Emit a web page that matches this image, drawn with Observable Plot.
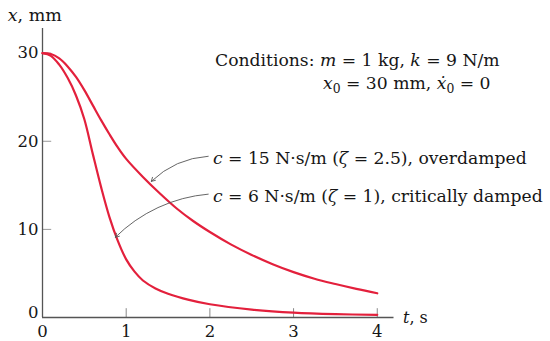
<!DOCTYPE html>
<html><head><meta charset="utf-8">
<script src="https://cdn.jsdelivr.net/npm/d3@7"></script>
<script src="https://cdn.jsdelivr.net/npm/@observablehq/plot@0.6"></script>
<style>
html,body{margin:0;padding:0;background:#fff;}
#chart svg{display:block;}
</style>
</head><body><div id="chart"></div>
<script>
// time samples (s) and displacements (mm)
const timeOver = [0,0.1,0.2,0.3,0.4,0.5,0.6,0.7,0.8,0.9,1.0,1.2,1.4,1.6,1.8,2.0,2.25,2.5,2.75,3.0,3.25,3.5,3.75,4.0];
const overdamped = [30,29.9,29.4,28.5,27.3,25.8,24.1,22.4,20.8,19.3,18.0,15.95,14.1,12.4,10.95,9.7,8.3,7.1,6.05,5.15,4.4,3.8,3.25,2.75];
const timeCrit = [0,0.1,0.2,0.3,0.4,0.5,0.6,0.7,0.8,0.9,1.0,1.1,1.2,1.35,1.5,1.75,2.0,2.5,3.0,3.5,4.0];
const critical = [30,29.7,28.7,27.2,25.2,22.5,18.6,14.8,11.4,8.7,6.6,5.2,4.2,3.3,2.7,2.0,1.5,0.9,0.55,0.38,0.3];
const xTickLabels = [0,1,2,3,4];
const xTicks = [1,2,3,4];
const yTickLabels = [10,20,30];
const yTicks = [10,20,30];
// leader arrows: [tStart, xStart, tEnd, xEnd]
const leaders = [
  {t1:1.98, v1:18.3, t2:1.30, v2:15.45},
  {t1:1.98, v1:14.0, t2:0.87, v2:9.1}
];

const rows = [
  ...timeOver.map((t,i)=>({t, x:overdamped[i], s:"over"})),
  ...timeCrit.map((t,i)=>({t, x:critical[i], s:"crit"}))
];

const FONT = "DejaVu Serif";
const RED = "#e3203c";
const INK = "#161616";
const plot = Plot.plot({
  width:550, height:341,
  marginLeft:42, marginRight:156.5, marginTop:28, marginBottom:24,
  x:{domain:[0,4.2], axis:null},
  y:{domain:[0,32.8], axis:null},
  style:{fontFamily:FONT, background:"#fff", overflow:"visible"},
  marks:[
    Plot.ruleX(xTicks, {x:d=>d, y1:0, y2:1.0, stroke:"#888", strokeWidth:1}),
    Plot.ruleY(yTicks, {y:d=>d, x1:0, x2:0.11, stroke:"#999", strokeWidth:1}),
    Plot.ruleX([0], {y1:0, y2:32.8, stroke:"#555", strokeWidth:1.3}),
    Plot.ruleY([0], {x1:0, x2:4.2, stroke:"#555", strokeWidth:1.3}),
    Plot.line(rows, {x:"t", y:"x", z:"s", stroke:RED, strokeWidth:2.2, curve:"catmull-rom"}),
    Plot.arrow(leaders, {x1:"t1", y1:"v1", x2:"t2", y2:"v2", bend:-20, stroke:"#555", strokeWidth:0.9, headLength:7}),
    Plot.text(xTickLabels, {x:d=>d, y:0, dy:14, text:d=>String(d), fontSize:16.5, fill:INK}),
    Plot.text(yTickLabels, {x:0, y:d=>d, dx:-4, textAnchor:"end", text:d=>String(d), fontSize:16.5, fill:INK}),
    Plot.text([0], {x:0, y:0, dx:-4, dy:-5, textAnchor:"end", text:d=>String(d), fontSize:16.5, fill:INK})
  ]
});
document.getElementById("chart").appendChild(plot);

const sx = plot.scale("x"), sy = plot.scale("y");
const svg = d3.select(plot);
const notes = [
  {t:2.067, v:28.49, size:17.2, parts:[["Conditions: ",0],["m",1],[" = 1 kg, ",0],["k",1],[" = 9 N/m",0]]},
  {t:3.357, v:25.88, size:17.2, parts:[["x",1],["0","sub"],[" = 30 mm, ",0],["ẋ",1],["0","sub"],[" = 0",0]]},
  {t:2.043, v:17.37, size:17.2, parts:[["c",1],[" = 15 N·s/m (",0],["ζ",1],[" = 2.5), overdamped",0]]},
  {t:2.043, v:13.05, size:17.2, parts:[["c",1],[" = 6 N·s/m (",0],["ζ",1],[" = 1), critically damped",0]]},
  {t:-0.41, v:33.6, size:17.5, parts:[["x",1],[", mm",0]]},
  {t:4.313, v:-0.68, size:16, parts:[["t",1],[", s",0]]}
];
for (const n of notes) {
  const txt = svg.append("text")
    .attr("x", sx.apply(n.t)).attr("y", sy.apply(n.v))
    .attr("text-anchor", "start")
    .attr("font-family", FONT).attr("font-size", n.size).attr("fill", INK);
  let shifted = false;
  for (const [s, kind] of n.parts) {
    const ts = txt.append("tspan").text(s);
    if (kind === "sub") { ts.attr("font-size", n.size*0.72).attr("dy", 4); shifted = true; }
    else {
      if (shifted) { ts.attr("dy", -4); shifted = false; }
      if (kind === 1) ts.attr("font-style", "italic");
    }
  }
}
</script>
</body></html>
